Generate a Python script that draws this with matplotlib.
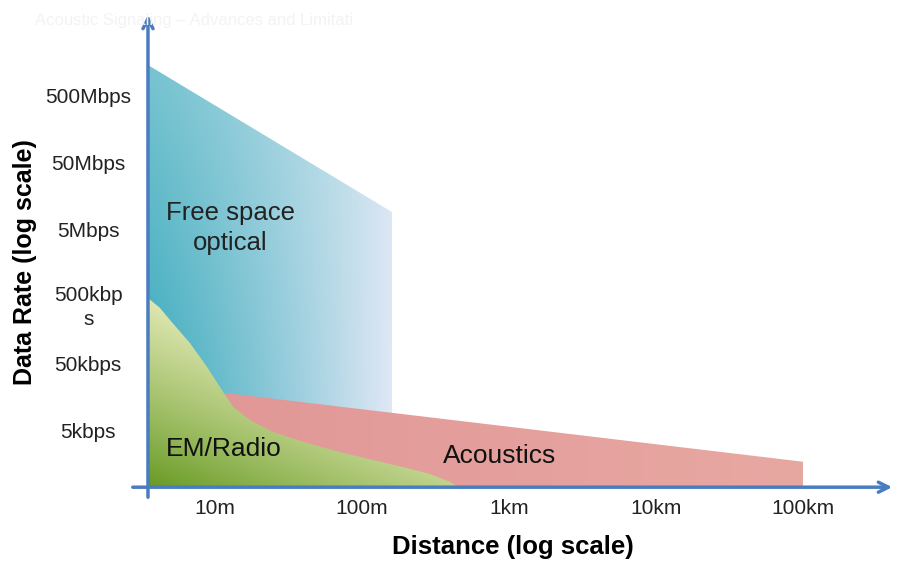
import numpy as np
import matplotlib
matplotlib.use("Agg")
import matplotlib.pyplot as plt
from matplotlib.patches import Polygon

plt.rcParams['font.family'] = ['Liberation Sans', 'DejaVu Sans']

# axis crossing point (distance in m, rate in bps)
x_cross = 3.5
y_cross = 750

dist_ticks = [10, 100, 1e3, 1e4, 1e5]
dist_labels = ['10m', '100m', '1km', '10km', '100km']
rate_ticks = [5e8, 5e7, 5e6, 5e5, 5e4, 5e3]
rate_labels = ['500Mbps', '50Mbps', '5Mbps', '500kbp\ns', '50kbps', '5kbps']

# free space optical region
fso_dist = [3.5, 3.5, 160, 160]
fso_rate = [750, 1.5e9, 9.6e6, 750]

# acoustics region
ac_dist = [4.0, 12, 1e5, 1e5, 4.0]
ac_rate = [19e3, 19e3, 1.8e3, 750, 750]

# EM / radio region (upper edge)
em_dist = [3.5, 4.2, 4.94, 6.76, 8.83, 10.8, 13.3, 17.3, 24.8, 42.3, 70.8,
           119, 202, 290, 397, 450]
em_rate = [5e5, 3.6e5, 2.35e5, 1.06e5, 4.67e4, 2.35e4, 1.18e4, 7.55e3, 5.0e3, 3.43e3, 2.51e3,
           1.91e3, 1.45e3, 1.18e3, 900, 755]

L = np.log10


def gradient_fill(ax, xs, ys, color_fn, zorder):
    xs, ys = np.asarray(xs), np.asarray(ys)
    poly = Polygon(np.column_stack([xs, ys]), closed=True,
                   facecolor='none', edgecolor='none')
    ax.add_patch(poly)
    x0, x1, y0, y1 = xs.min(), xs.max(), ys.min(), ys.max()
    h, v = np.meshgrid(np.linspace(0, 1, 300), np.linspace(0, 1, 300))
    img = color_fn(h, v)
    im = ax.imshow(img, extent=[x0, x1, y0, y1], origin='lower',
                   aspect='auto', zorder=zorder, interpolation='bilinear')
    im.set_clip_path(poly)


def fso_color(h, v):
    teal = np.array([52, 168, 186]) / 255
    pale = np.array([226, 232, 246]) / 255
    t = (h ** 1.1)[..., None]
    c = teal * (1 - t) + pale * t
    w = (0.45 * v ** 1.2)[..., None]
    return c * (1 - w) + np.array([0.80, 0.90, 0.93]) * w


def ac_color(h, v):
    a = np.array([224, 150, 150]) / 255
    b = np.array([232, 168, 162]) / 255
    t = h[..., None]
    return a * (1 - t) + b * t


def em_color(h, v):
    dark = np.array([82, 140, 10]) / 255
    light = np.array([230, 236, 186]) / 255
    t = np.clip(0.85 * v + 0.6 * h + 0.1, 0, 1) ** 0.85
    t = t[..., None]
    return dark * (1 - t) + light * t


fig = plt.figure(figsize=(8.99, 5.61), dpi=100)
ax = fig.add_axes([0, 0, 1, 1])
# pixel mapping: 10m at x=215, 147 px/decade; 5kbps at y=432, 67 px/decade
ax.set_xlim(1 - 215 / 147, 1 + 684 / 147)
ax.set_ylim(L(5e3) - 129 / 67, L(5e3) + 432 / 67)
ax.axis('off')

gradient_fill(ax, L(fso_dist), L(fso_rate), fso_color, 1)
gradient_fill(ax, L(ac_dist), L(ac_rate), ac_color, 2)
gradient_fill(ax, L(em_dist + [x_cross]), L(em_rate + [y_cross]), em_color, 3)

axis_col = '#4a7cc0'
ax.annotate('', xy=(L(x_cross), L(5e3) + 420 / 67), xytext=(L(x_cross), L(5e3) - 68 / 67),
            arrowprops=dict(arrowstyle='->', color=axis_col, lw=2.5, mutation_scale=18), zorder=5)
ax.annotate('', xy=(1 + 680 / 147, L(y_cross)), xytext=(1 - 85 / 147, L(y_cross)),
            arrowprops=dict(arrowstyle='->', color=axis_col, lw=2.5, mutation_scale=18), zorder=5)

for d, lab in zip(dist_ticks, dist_labels):
    ax.annotate(lab, xy=(L(d), L(y_cross)), xytext=(0, -15.5), textcoords='offset points',
                ha='center', va='center', fontsize=15, color='#222222')
for r, lab in zip(rate_ticks, rate_labels):
    if '\n' in lab:
        ax.annotate(lab, xy=(L(x_cross), L(r)), xytext=(-43, 8.5), textcoords='offset points',
                    ha='center', va='top', fontsize=15, color='#222222',
                    multialignment='center', linespacing=1.35)
    else:
        ax.annotate(lab, xy=(L(x_cross), L(r)), xytext=(-43, 0), textcoords='offset points',
                    ha='center', va='center', fontsize=15, color='#222222')

ax.text(0.665, L(5e3) + 204 / 67, 'Free space\noptical', fontsize=18.5, color='#222222',
        va='center', ha='left', linespacing=1.32, multialignment='center', zorder=6)
ax.text(0.665, L(5e3) - 17 / 67, 'EM/Radio', fontsize=19, color='#111111',
        va='center', ha='left', zorder=6)
ax.text(2.551, L(5e3) - 24 / 67, 'Acoustics', fontsize=19, color='#111111',
        va='center', ha='left', zorder=6)

fig.text(25 / 899, 1 - 262 / 561, 'Data Rate (log scale)', rotation=90, fontsize=18,
         fontweight='bold', ha='center', va='center')
fig.text(513 / 899, 1 - 547 / 561, 'Distance (log scale)', fontsize=18.5,
         fontweight='bold', ha='center', va='center')
fig.text(35 / 899, 1 - 20 / 561, 'Acoustic Signaling \u2013 Advances and Limitati',
         fontsize=12, color='#f3f3f3', ha='left', va='center')

fig.savefig('out.png', dpi=100)
